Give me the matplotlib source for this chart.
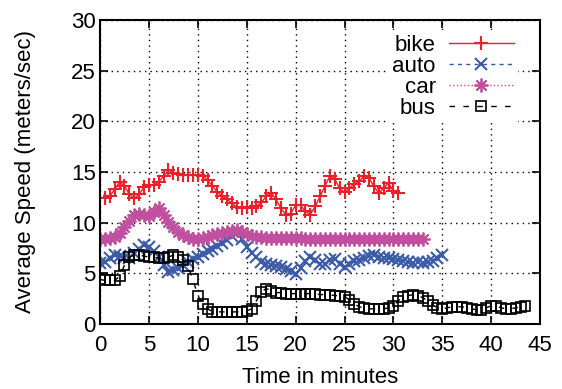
import numpy as np
import matplotlib
matplotlib.use('Agg')
import matplotlib.pyplot as plt

plt.rcParams['font.family'] = ['Liberation Sans', 'DejaVu Sans']

# sampled every half minute
passo = 0.5

bike = [12.4, 12.6, 13.3, 14.0, 13.6, 12.8, 12.4, 12.8, 13.5, 13.7,
        13.7, 14.0, 14.6, 15.2, 14.9, 14.8, 14.7, 14.7, 14.7, 14.7,
        14.6, 14.2, 13.6, 13.0, 12.6, 12.3, 11.9, 11.5, 11.4, 11.5,
        11.4, 11.6, 12.0, 12.6, 12.9, 12.3, 11.4, 10.8, 10.9, 11.7,
        11.7, 11.1, 10.8, 11.6, 12.6, 13.6, 14.6, 14.3, 13.4, 13.0,
        13.4, 13.8, 14.1, 14.6, 14.4, 13.6, 12.9, 13.4, 13.9, 13.1, 12.9]
inicio_bike = 0.5

auto = [6.0, 6.1, 6.5, 6.8, 6.7, 6.5, 6.5, 7.0, 7.4, 7.8,
        7.6, 7.2, 6.6, 5.8, 5.1, 5.3, 5.5, 5.8, 6.1, 6.4,
        6.6, 6.9, 7.2, 7.4, 7.7, 8.0, 8.3, 8.7, 9.0, 8.4,
        7.6, 7.0, 6.6, 6.1, 5.9, 5.8, 5.7, 5.6, 5.4, 5.2,
        4.9, 5.5, 6.2, 6.6, 6.3, 5.9, 5.9, 6.3, 6.4, 5.9,
        5.6, 5.9, 6.2, 6.3, 6.5, 6.7, 6.8, 6.6, 6.5, 6.5,
        6.4, 6.3, 6.2, 6.1, 6.0, 6.1, 6.0, 6.1, 6.2, 6.5, 6.8]

car = [8.4, 8.4, 8.5, 8.6, 9.0, 9.6, 10.2, 10.8, 10.9, 10.8,
       10.7, 11.0, 11.4, 10.8, 10.1, 9.6, 9.1, 8.8, 8.6, 8.4,
       8.4, 8.5, 8.6, 8.8, 8.9, 9.0, 9.1, 9.2, 9.3, 9.1,
       8.9, 8.7, 8.6, 8.6, 8.5, 8.5, 8.5, 8.5, 8.5, 8.5,
       8.5, 8.5, 8.4, 8.4, 8.4, 8.4, 8.4, 8.4, 8.4, 8.4,
       8.4, 8.4, 8.4, 8.4, 8.4, 8.4, 8.4, 8.4, 8.4, 8.4,
       8.4, 8.4, 8.4, 8.4, 8.4, 8.4, 8.4]

bus = [4.4, 4.3, 4.3, 4.3, 4.7, 5.8, 6.6, 6.8, 6.8, 6.7,
       6.6, 6.6, 6.5, 6.5, 6.6, 6.8, 6.6, 6.3, 5.7, 4.4,
       2.8, 2.0, 1.5, 1.2, 1.2, 1.2, 1.2, 1.2, 1.2, 1.2,
       1.3, 1.5, 2.3, 3.2, 3.5, 3.3, 3.1, 3.1, 3.0, 3.0,
       3.0, 3.0, 3.0, 3.0, 3.0, 2.9, 2.9, 2.9, 2.8, 2.8,
       2.7, 2.4, 2.0, 1.7, 1.6, 1.5, 1.5, 1.5, 1.5, 1.6,
       1.8, 2.3, 2.7, 2.8, 2.9, 2.8, 2.6, 2.3, 1.9, 1.6,
       1.5, 1.6, 1.7, 1.7, 1.7, 1.6, 1.5, 1.4, 1.4, 1.6,
       1.8, 1.8, 1.6, 1.5, 1.5, 1.6, 1.7, 1.8]

t_bike = inicio_bike + passo * np.arange(len(bike))
t_auto = passo * np.arange(len(auto))
t_car = passo * np.arange(len(car))
t_bus = passo * np.arange(len(bus))

fig = plt.figure(figsize=(5.62, 3.89), dpi=100)
ax = fig.add_axes([0.178, 0.167, 0.783, 0.782])

ax.plot(t_bike, bike, color='#e8212b', linestyle='-', linewidth=1.0,
        marker='+', markersize=10, markeredgewidth=1.5, label='bike')
ax.plot(t_auto, auto, color='#3b5ba8', linestyle=(0, (3, 3)), linewidth=1.0,
        marker='x', markersize=8, markeredgewidth=1.5, label='auto')
ax.plot(t_car, car, color='#c0509f', linestyle=':', linewidth=1.0,
        marker=(8, 2, 0), markersize=10, markeredgewidth=1.3, label='car')
ax.plot(t_bus, bus, color='black', linestyle=(0, (4, 6)), linewidth=1.0,
        marker='s', markersize=7, markerfacecolor='none', markeredgewidth=1.2,
        label='bus')

ax.set_xlim(0, 45)
ax.set_ylim(0, 30)
ax.set_xticks(np.arange(0, 46, 5))
ax.set_yticks(np.arange(0, 31, 5))
ax.grid(True, color='black', linestyle=(0, (1, 3)), linewidth=1.0)
ax.tick_params(direction='in', length=6, width=1.2, top=True, right=True,
               labelsize=16)
ax.tick_params(axis='x', pad=8)
ax.tick_params(axis='y', pad=3)
for s in ax.spines.values():
    s.set_linewidth(1.5)

ax.set_xlabel('Time in minutes', fontsize=16, labelpad=8)
ax.set_ylabel('Average Speed (meters/sec)', fontsize=16, labelpad=25)

leg = ax.legend(loc='upper right', bbox_to_anchor=(0.98, 1.01),
                markerfirst=False, fontsize=16,
                handlelength=2.9, numpoints=1, labelspacing=0.0,
                handletextpad=0.6, borderaxespad=0.6, borderpad=0.2,
                frameon=True, fancybox=False, framealpha=1)
leg.get_frame().set_edgecolor('none')

fig.savefig('out.png', dpi=100)
